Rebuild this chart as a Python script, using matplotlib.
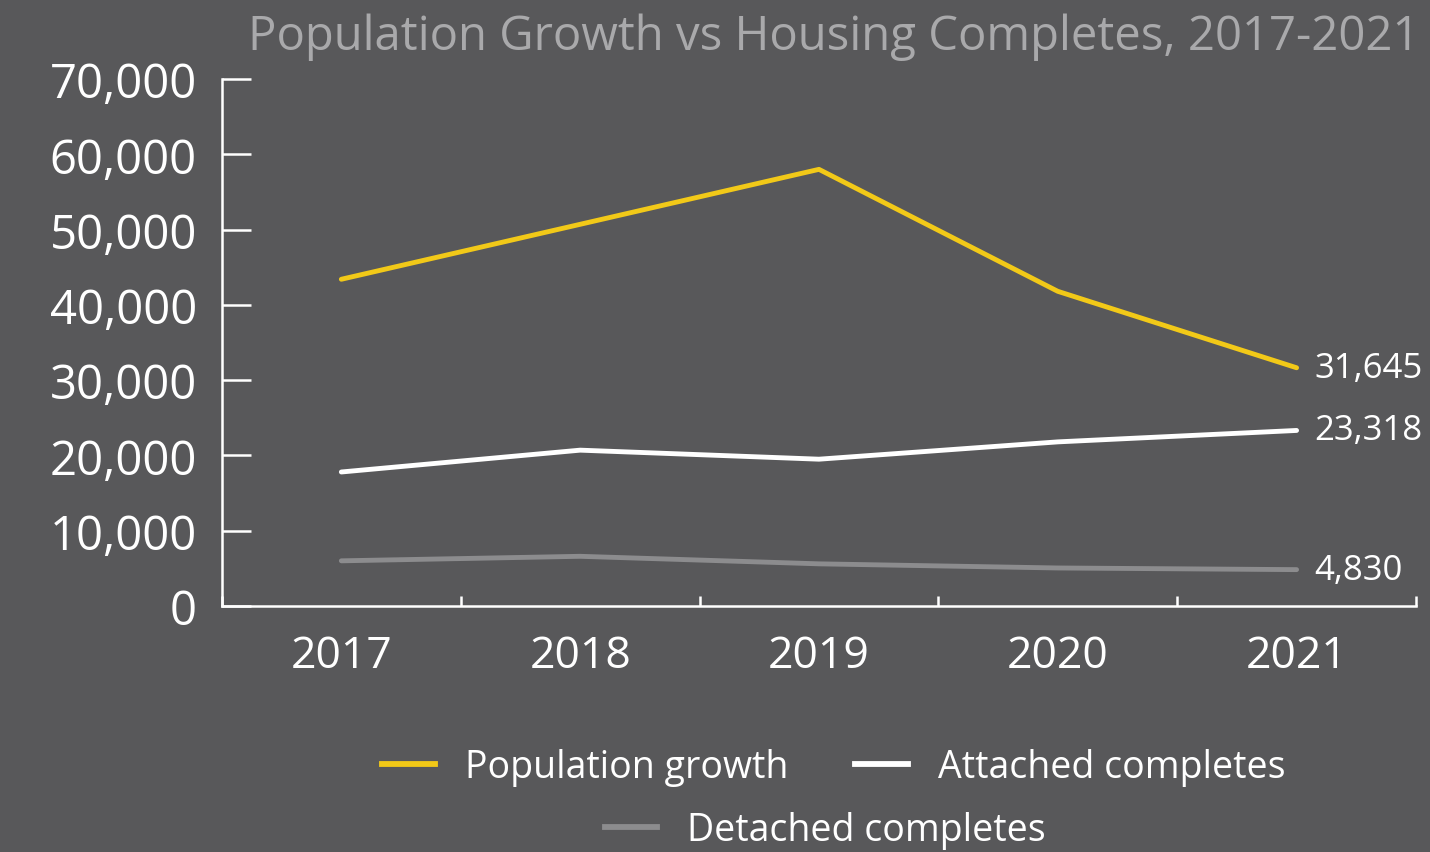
import matplotlib
matplotlib.use("Agg")
import matplotlib.pyplot as plt
from matplotlib.lines import Line2D

years = ["2017", "2018", "2019", "2020", "2021"]
population_growth = [43400, 50700, 58000, 41800, 31645]
attached_completes = [17800, 20700, 19500, 21800, 23318]
detached_completes = [6000, 6600, 5600, 5050, 4830]
y_ticks = [0, 10000, 20000, 30000, 40000, 50000, 60000, 70000]

BG = "#58585a"
YELLOW = "#f2c918"
WHITE = "#ffffff"
GREY = "#8c8c8e"

plt.rcParams["font.family"] = ["Open Sans", "DejaVu Sans"]

fig = plt.figure(figsize=(14.3, 8.53), dpi=100, facecolor=BG)
ax = fig.add_axes([0.1552, 0.2884, 0.835, 0.6178], facecolor=BG)

x = list(range(len(years)))
series = [
    (population_growth, YELLOW, "Population growth"),
    (attached_completes, WHITE, "Attached completes"),
    (detached_completes, GREY, "Detached completes"),
]
for vals, col, lab in series:
    ax.plot(x, vals, color=col, lw=3.5, solid_capstyle="round", label=lab)
    ax.annotate(f"{vals[-1]:,}", (x[-1], vals[-1]), xytext=(13, 0),
                textcoords="offset points", va="center", ha="left",
                color=WHITE, fontsize=25)

ax.set_xlim(-0.5, len(years) - 0.5)
ax.set_ylim(0, 70000)
ax.set_yticks(y_ticks)
ax.set_yticklabels([f"{v:,}" for v in y_ticks])
ax.set_xticks([i - 0.5 for i in range(len(years) + 1)])
ax.set_xticklabels([])
ax.set_xticks(x, minor=True)
ax.set_xticklabels(years, minor=True)

for s in ["top", "right"]:
    ax.spines[s].set_visible(False)
for s in ["left", "bottom"]:
    ax.spines[s].set_color(WHITE)
    ax.spines[s].set_linewidth(1.8)

ax.tick_params(axis="y", direction="in", length=21, width=1.8, colors=WHITE,
               labelsize=34, pad=18)
ax.tick_params(axis="x", which="major", direction="in", length=7, width=1.8,
               colors=WHITE)
ax.tick_params(axis="x", which="minor", length=0, labelsize=32, pad=20,
               labelcolor=WHITE)

fig.text(0.993, 0.956, "Population Growth vs Housing Completes, 2017-2021",
         ha="right", va="center", color="#a9a9ab", fontsize=34)

handles = [Line2D([], [], color=c, lw=4.2) for _, c, _ in series]
labels = [lab for _, _, lab in series]
fig.legend(handles[:2], labels[:2], loc="center", ncol=2,
           bbox_to_anchor=(0.583, 0.0996), frameon=False, fontsize=27,
           labelcolor=WHITE, handlelength=1.4, handletextpad=0.8,
           columnspacing=1.8)
fig.legend(handles[2:], labels[2:], loc="center",
           bbox_to_anchor=(0.577, 0.026), frameon=False, fontsize=27,
           labelcolor=WHITE, handlelength=1.4, handletextpad=0.8)

fig.savefig("out.png", dpi=100, facecolor=BG)
